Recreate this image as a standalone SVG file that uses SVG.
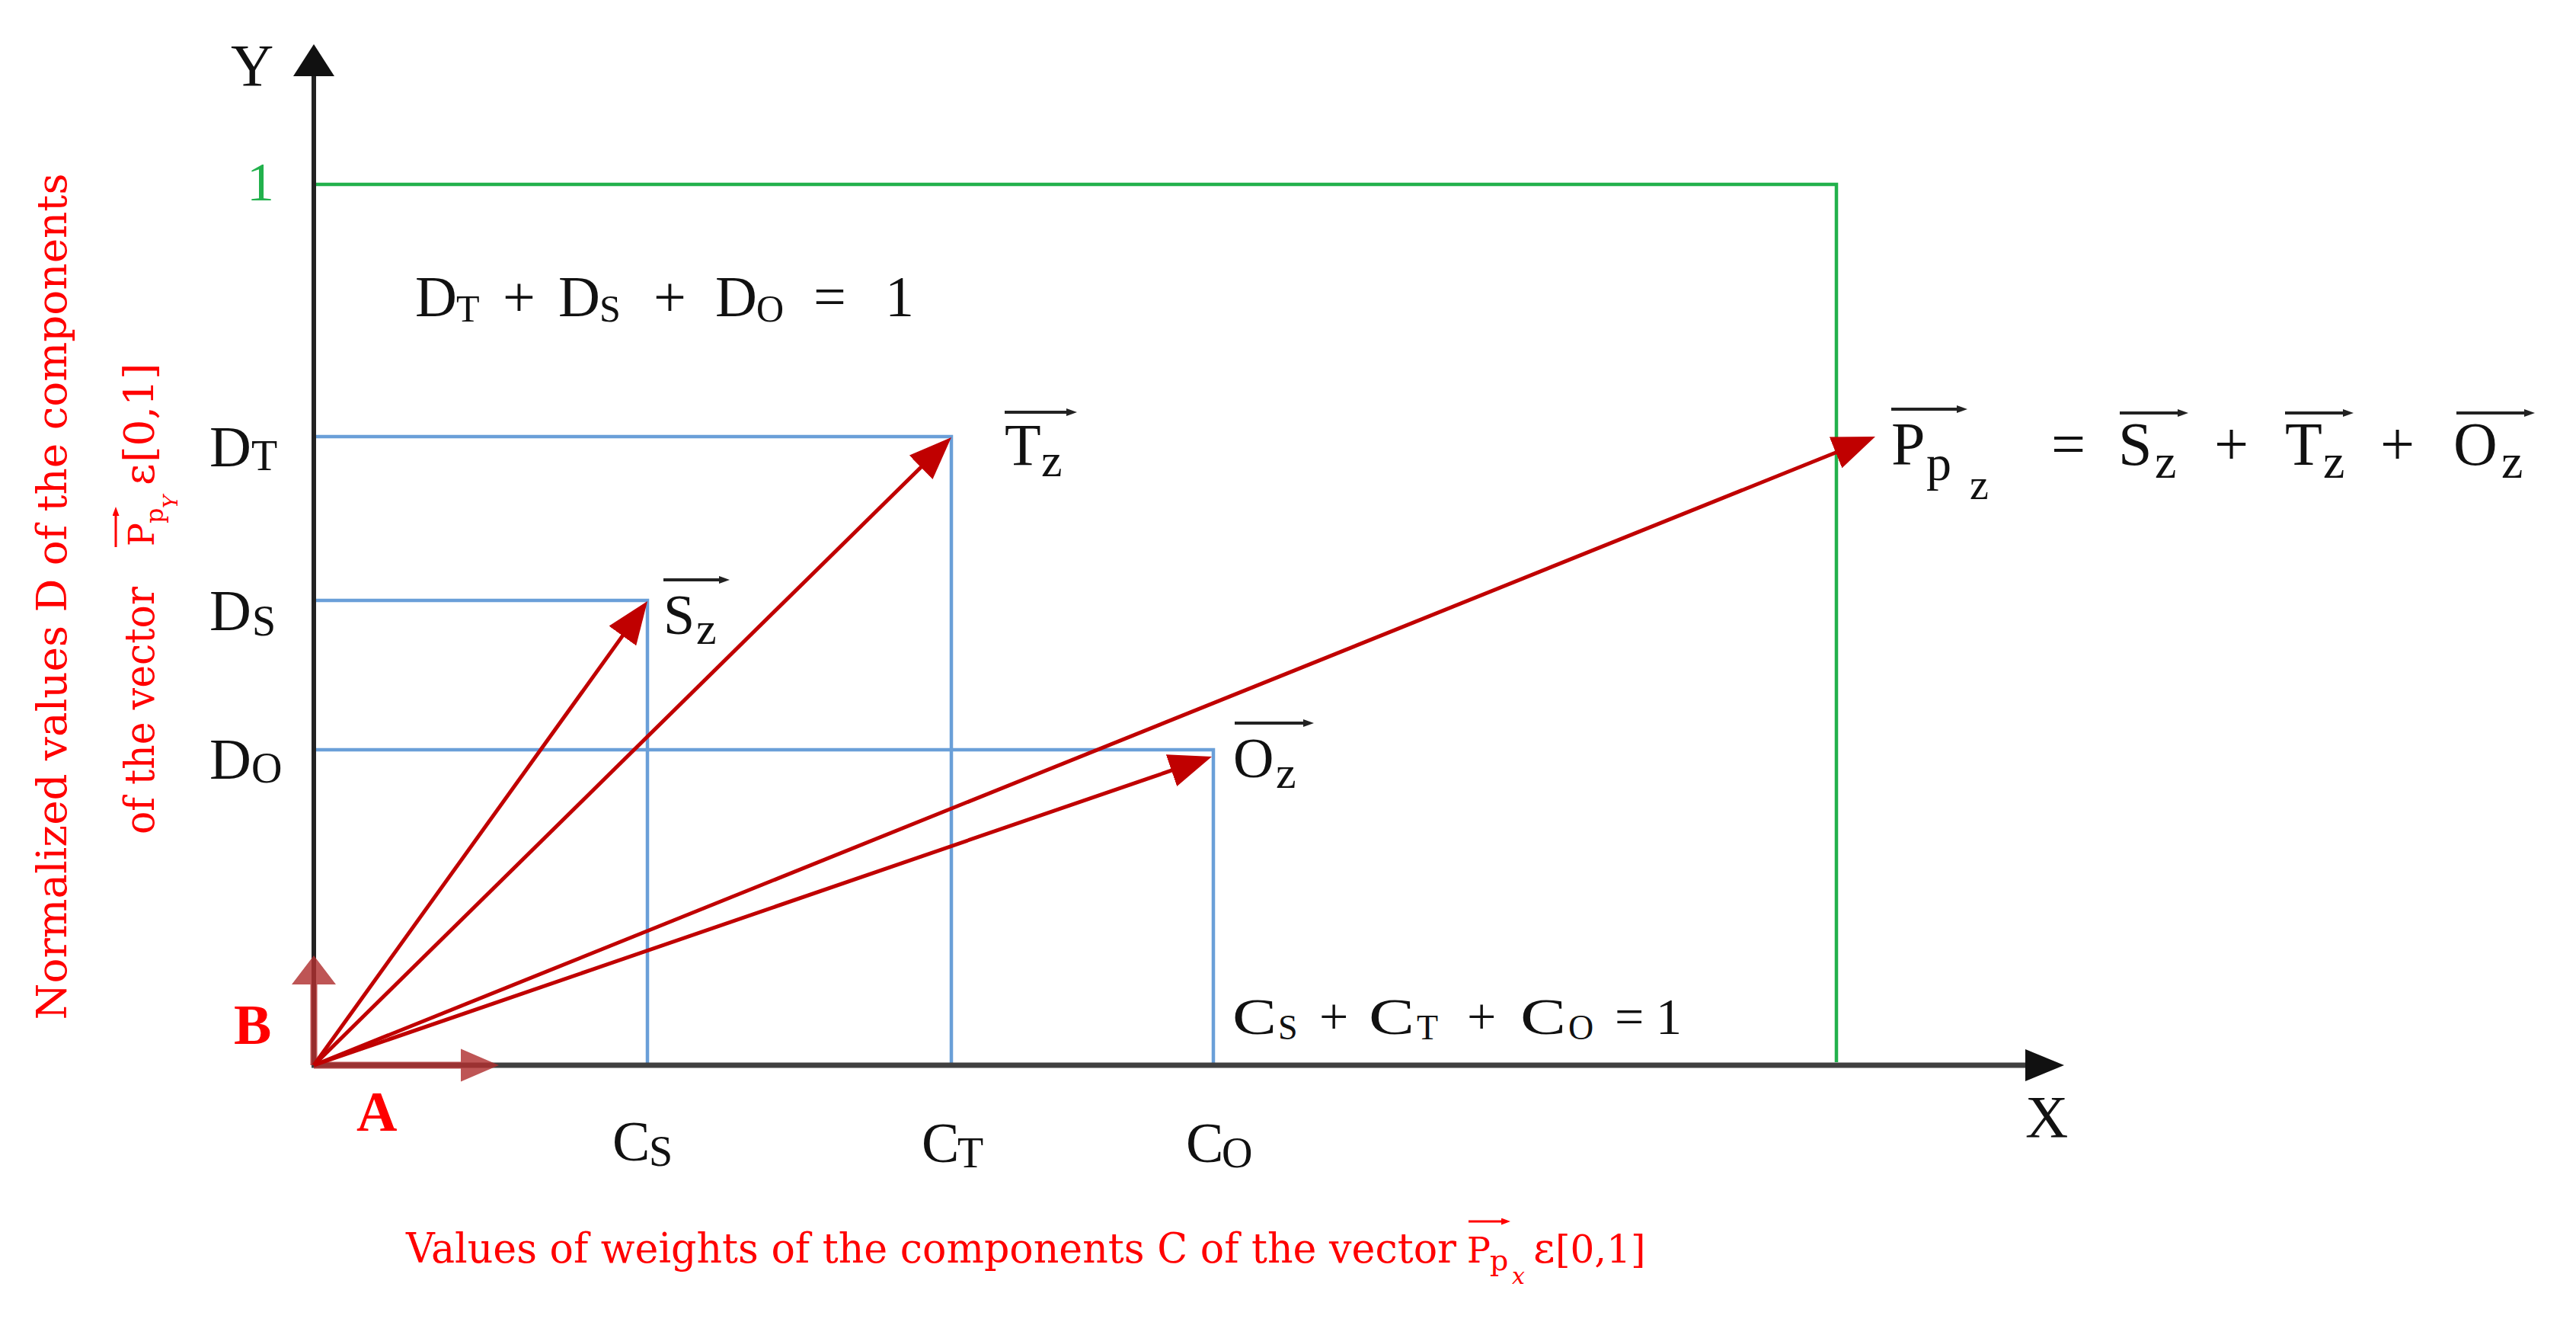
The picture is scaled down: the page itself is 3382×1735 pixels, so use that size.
<svg xmlns="http://www.w3.org/2000/svg" width="3382" height="1735" viewBox="0 0 3382 1735">
<defs>
<style>
.m{font-family:"Liberation Serif","Times New Roman",serif;fill:#111}
.r{font-family:"DejaVu Serif","Liberation Serif",serif;fill:#ff0000}
.blue{stroke:#6a9fd8;stroke-width:4.5;fill:none}
.green{stroke:#22b14c;stroke-width:4.5;fill:none}
.vec{stroke:#c00000;stroke-width:5;fill:none;marker-end:url(#ah)}
.ov{stroke:#222;stroke-width:4;fill:none;marker-end:url(#oh)}
.ovr{stroke:#ff0000;stroke-width:3;fill:none;marker-end:url(#ohr)}
.ab{fill:#b03030;fill-opacity:0.82}
</style>
<marker id="ah" viewBox="0 0 56 44" refX="26" refY="22" markerWidth="56" markerHeight="44" markerUnits="userSpaceOnUse" orient="auto"><path d="M0,0 L56,22 L0,44 z" fill="#c00000"/></marker>
<marker id="oh" viewBox="0 0 14 10" refX="2" refY="5" markerWidth="14" markerHeight="10" markerUnits="userSpaceOnUse" orient="auto"><path d="M0,0 L14,5 L0,10 z" fill="#222"/></marker>
<marker id="ohr" viewBox="0 0 12 9" refX="2" refY="4.5" markerWidth="12" markerHeight="9" markerUnits="userSpaceOnUse" orient="auto"><path d="M0,0 L12,4.5 L0,9 z" fill="#ff0000"/></marker>
</defs>
<rect width="3382" height="1735" fill="#ffffff"/>

<g id="frame-green">
<polyline class="green" points="412,242 2411,242 2411,1394"/>
<text class="m" x="342" y="263" font-size="72" text-anchor="middle" style="fill:#22b14c">1</text>
</g>

<g id="grid-T">
<polyline class="blue" points="412,573 1249,573 1249,1395"/>
</g>
<g id="grid-S">
<polyline class="blue" points="412,788 850,788 850,1395"/>
</g>
<g id="grid-O">
<polyline class="blue" points="412,984 1593,984 1593,1395"/>
</g>

<g id="axis-y">
<line x1="412" y1="1400" x2="412" y2="96" stroke="#222" stroke-width="6"/>
<polygon points="412,58 385,100 439,100" fill="#111"/>
<text class="m" x="303" y="112" font-size="78">Y</text>
</g>
<g id="axis-x">
<line x1="409" y1="1398" x2="2662" y2="1398" stroke="#404040" stroke-width="7"/>
<polygon points="2710,1398 2659,1377 2659,1419" fill="#111"/>
<text class="m" x="2659" y="1492" font-size="78">X</text>
</g>

<g id="unit-vectors">
<path class="ab" d="M412,1393.5 H605 V1376.5 L655,1398 L605,1419.5 V1402.5 H412 Z"/>
<path class="ab" d="M407.5,1398 V1292 H383 L412,1254 L441,1292 H416.5 V1398 Z"/>
<text x="468" y="1484" font-size="74" font-weight="bold" font-family="Liberation Serif,serif" fill="#ff0000">A</text>
<text x="307" y="1370" font-size="74" font-weight="bold" font-family="Liberation Serif,serif" fill="#ff0000">B</text>
</g>

<g id="connectors">
<line class="vec" x1="412" y1="1398" x2="832.5" y2="813.4"/>
<line class="vec" x1="412" y1="1398" x2="1227.6" y2="595.0"/>
<line class="vec" x1="412" y1="1398" x2="1562.6" y2="1002.7"/>
<line class="vec" x1="412" y1="1398" x2="2434.2" y2="584.2"/>
</g>

<g id="label-DT">
<text class="m" font-size="76"><tspan x="275" y="612">D</tspan><tspan x="330" y="617" font-size="56">T</tspan></text>
</g>
<g id="label-DS">
<text class="m" font-size="76"><tspan x="275" y="827">D</tspan><tspan x="331" y="834" font-size="56">S</tspan></text>
</g>
<g id="label-DO">
<text class="m" font-size="76"><tspan x="275" y="1022">D</tspan><tspan x="330" y="1027" font-size="56">O</tspan></text>
</g>

<g id="label-CS">
<text class="m" font-size="74"><tspan x="804" y="1523">C</tspan><tspan x="852" y="1530" font-size="56">S</tspan></text>
</g>
<g id="label-CT">
<text class="m" font-size="74"><tspan x="1210" y="1525">C</tspan><tspan x="1257" y="1532" font-size="56">T</tspan></text>
</g>
<g id="label-CO">
<text class="m" font-size="74"><tspan x="1557" y="1525">C</tspan><tspan x="1604" y="1532" font-size="56">O</tspan></text>
</g>

<g id="eq-D">
<text class="m" font-size="76"><tspan x="545" y="415">D</tspan><tspan x="599" y="422" font-size="50">T</tspan><tspan x="660" y="415">+</tspan><tspan x="733" y="415">D</tspan><tspan x="787" y="422" font-size="50">S</tspan><tspan x="858" y="415">+</tspan><tspan x="939" y="415">D</tspan><tspan x="993" y="422" font-size="50">O</tspan><tspan x="1068" y="415">=</tspan><tspan x="1162" y="415">1</tspan></text>
</g>

<g id="eq-C">
<text class="m" font-size="68" x="1618" y="1357" textLength="58" lengthAdjust="spacingAndGlyphs">C</text>
<text class="m" font-size="46" x="1678" y="1364">S</text>
<text class="m" font-size="68" x="1732" y="1357">+</text>
<text class="m" font-size="68" x="1797" y="1357" textLength="60" lengthAdjust="spacingAndGlyphs">C</text>
<text class="m" font-size="46" x="1860" y="1364">T</text>
<text class="m" font-size="68" x="1926" y="1357">+</text>
<text class="m" font-size="68" x="1996" y="1357" textLength="60" lengthAdjust="spacingAndGlyphs">C</text>
<text class="m" font-size="46" x="2059" y="1364">O</text>
<text class="m" font-size="68" x="2120" y="1357">=</text>
<text class="m" font-size="68" x="2174" y="1357">1</text>
</g>

<g id="label-Sz">
<line class="ov" x1="871" y1="761" x2="946" y2="761"/>
<text class="m" font-size="74"><tspan x="871" y="832">S</tspan><tspan x="914" y="845" font-size="60">z</tspan></text>
</g>
<g id="label-Tz">
<line class="ov" x1="1319" y1="541" x2="1402" y2="541"/>
<text class="m" font-size="78"><tspan x="1319" y="610">T</tspan><tspan x="1367" y="625" font-size="62">z</tspan></text>
</g>
<g id="label-Oz">
<line class="ov" x1="1621" y1="949" x2="1713" y2="949"/>
<text class="m" font-size="74"><tspan x="1619" y="1020">O</tspan><tspan x="1675" y="1034" font-size="60">z</tspan></text>
</g>

<g id="label-Pp">
<line class="ov" x1="2483" y1="537" x2="2571" y2="537" stroke-width="5"/>
<text class="m" font-size="80"><tspan x="2483" y="610">P</tspan><tspan x="2529" y="630" font-size="66">p</tspan><tspan x="2586" y="655" font-size="56">z</tspan></text>
<text class="m" font-size="80" x="2693" y="610">=</text>
<line class="ov" x1="2783" y1="542" x2="2861" y2="542" stroke-width="5"/>
<text class="m" font-size="80"><tspan x="2781" y="610">S</tspan><tspan x="2829" y="627" font-size="64">z</tspan></text>
<text class="m" font-size="80" x="2907" y="610">+</text>
<line class="ov" x1="3000" y1="542" x2="3078" y2="542" stroke-width="5"/>
<text class="m" font-size="80"><tspan x="3000" y="610">T</tspan><tspan x="3050" y="627" font-size="64">z</tspan></text>
<text class="m" font-size="80" x="3125" y="610">+</text>
<line class="ov" x1="3225" y1="542" x2="3316" y2="542" stroke-width="5"/>
<text class="m" font-size="80"><tspan x="3221" y="610">O</tspan><tspan x="3284" y="627" font-size="64">z</tspan></text>
</g>

<g id="title-y">
<text class="r" font-size="55" transform="translate(87,783) rotate(-90)" text-anchor="middle" textLength="1111" lengthAdjust="spacingAndGlyphs">Normalized values D of the components</text>
<g transform="translate(202,1095) rotate(-90)">
<text class="r" font-size="55" x="0" y="0" textLength="325" lengthAdjust="spacingAndGlyphs">of the vector</text>
<line class="ovr" x1="377" y1="-50" x2="420" y2="-50"/>
<text class="r" font-size="55"><tspan x="378" y="0" font-size="46">P</tspan><tspan x="408" y="12" font-size="32">p</tspan><tspan x="428" y="31" font-size="26" font-style="italic">Y</tspan><tspan x="458" y="0">ε</tspan><tspan x="488" y="0">[0,1]</tspan></text>
</g>
</g>

<g id="title-x">
<text class="r" font-size="55" x="533" y="1657" textLength="1379" lengthAdjust="spacingAndGlyphs">Values of weights of the components C of the vector</text>
<line class="ovr" x1="1928" y1="1603" x2="1973" y2="1603"/>
<text class="r" font-size="55"><tspan x="1926" y="1657" font-size="46">P</tspan><tspan x="1956" y="1667" font-size="38">p</tspan><tspan x="1985" y="1685" font-size="30" font-style="italic">x</tspan><tspan x="2013" y="1657">ε</tspan><tspan x="2042" y="1657" font-size="50">[0,1]</tspan></text>
</g>
</svg>
